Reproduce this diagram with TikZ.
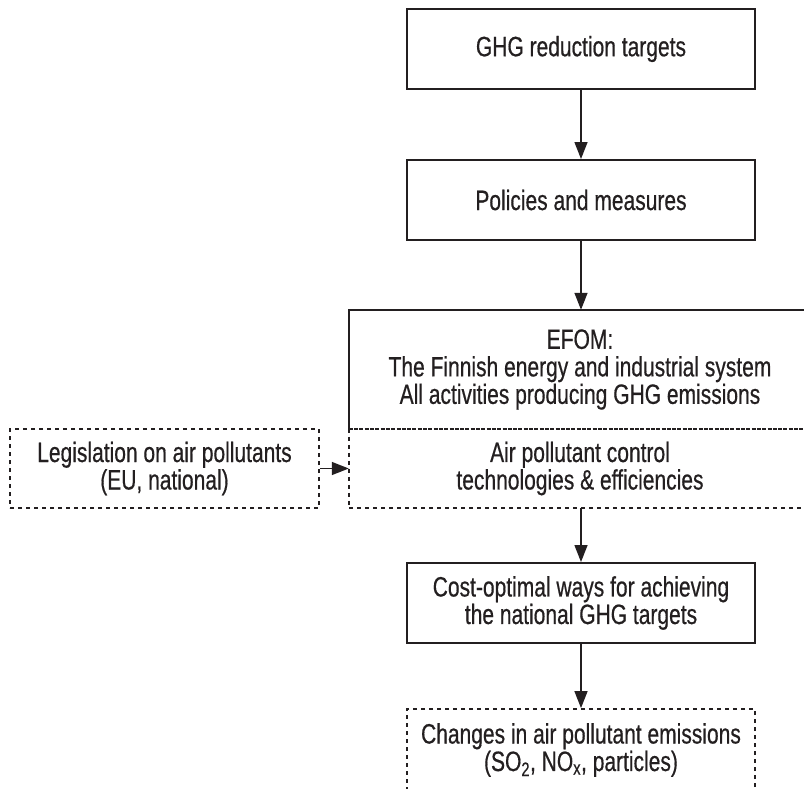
\documentclass[tikz,border=0pt]{standalone}
\usepackage{fontspec}
\setmainfont{Liberation Sans}[FakeStretch=0.75, FakeBold=0.5]
\usetikzlibrary{arrows.meta}
\definecolor{ink}{HTML}{231F20}
\begin{document}
\begin{tikzpicture}[x=1pt,y=-1pt,
  box/.style={draw=none, minimum width=348pt, minimum height=80pt, inner sep=0pt,
    align=center, text=ink, font=\fontsize{28}{27.5}\selectfont},
  solidbox/.style={box, draw=ink, line width=2pt},
  dotbox/.style={box, draw=ink, line width=1.8pt, dash pattern=on 4pt off 4pt},
  solidline/.style={draw=ink, line width=2pt},
  dotline/.style={draw=ink, line width=1.8pt, dash pattern=on 4pt off 4pt},
  sepline/.style={draw=ink, line width=1.6pt, dash pattern=on 4pt off 1.3pt},
  arr/.style={draw=ink, line width=1.4pt, -{Triangle[length=17pt,width=13pt]}}]
\useasboundingbox (0,0) rectangle (804,788);
\clip (0,0) rectangle (804,788);
\fill[white] (0,0) rectangle (804,788);

\node[solidbox] (ghg) at (581,49) {GHG reduction targets};
\node[solidbox] (pol) at (581,200) {Policies and measures};

\node[box, minimum width=462pt, minimum height=119pt] (efom) at (580,369.5)
  {EFOM:\\The Finnish energy and industrial system\\All activities producing GHG emissions};
\draw[solidline] (efom.south west) -- (efom.north west) -- (efom.north east) -- (efom.south east);

\node[box, minimum width=462pt, minimum height=79pt] (apc) at (580,468.5)
  {Air pollutant control\\technologies \& efficiencies};
\draw[dotline] (apc.north west) -- (apc.south west) -- (apc.south east) -- (apc.north east);
\draw[sepline] (efom.south west) -- (efom.south east);

\node[dotbox, minimum width=309pt, minimum height=79pt] (leg) at (164.5,468.5)
  {Legislation on air pollutants\\(EU, national)};

\node[solidbox] (cost) at (581,603) {Cost-optimal ways for achieving\\the national GHG targets};
\node[dotbox, minimum height=82pt] (chg) at (581,750)
  {Changes in air pollutant emissions\\(SO\textsubscript{2}, NO\textsubscript{x}, particles)};

\draw[arr] (ghg.south) -- (pol.north);
\draw[arr] (pol.south) -- (pol.south |- efom.north);
\draw[arr] (leg.east) -- (apc.west);
\draw[arr] (cost.north |- apc.south) -- (cost.north);
\draw[arr] (cost.south) -- (chg.north);
\end{tikzpicture}
\end{document}
